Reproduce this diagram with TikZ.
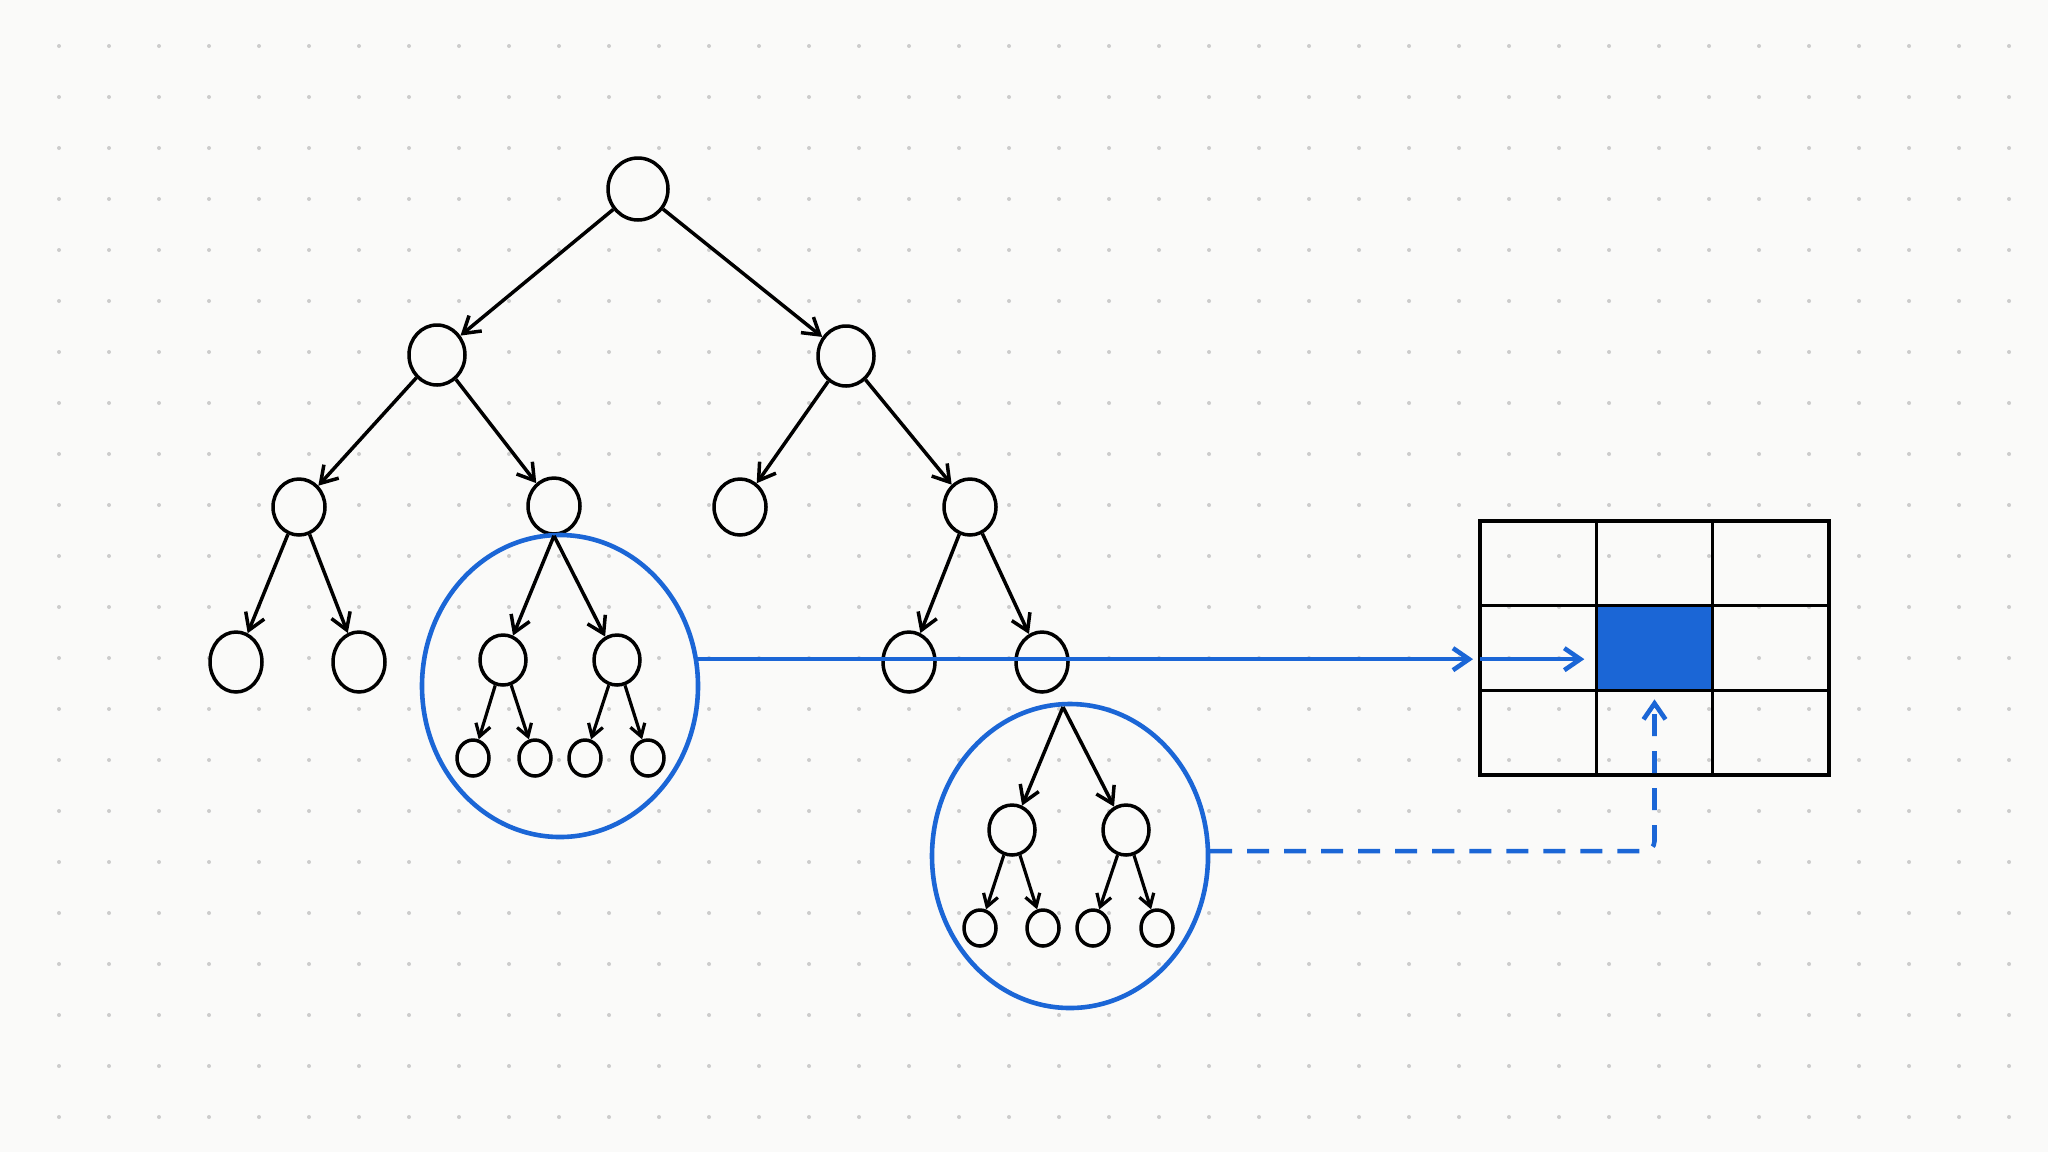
\documentclass[tikz,border=0pt]{standalone}
\usetikzlibrary{arrows.meta,shapes.geometric}
\definecolor{bgc}{RGB}{250,250,249}
\definecolor{dotc}{RGB}{204,204,204}
\definecolor{bluec}{RGB}{27,102,214}
\begin{document}
\begin{tikzpicture}[x=0.5pt,y=-0.5pt,
  tn/.style={ellipse,draw=black,fill=bgc,line width=1.75pt,inner sep=0pt},
  nroot/.style={tn,minimum width=30pt,minimum height=31pt},
  nlone/.style={tn,minimum width=28pt,minimum height=30pt},
  nltwo/.style={tn,minimum width=26pt,minimum height=28pt},
  nlthree/.style={tn,minimum width=26pt,minimum height=30pt},
  nsub/.style={tn,minimum width=23pt,minimum height=25pt},
  nleaf/.style={tn,minimum width=16pt,minimum height=18pt},
  ring/.style={ellipse,draw=bluec,line width=2.3pt,inner sep=0pt,minimum width=138pt,minimum height=151pt},
  cell/.style={rectangle,draw=black,line width=1.7pt,inner sep=0pt,outer sep=0pt,minimum width=58.17pt,minimum height=42.33pt},
  edge/.style={line width=1.75pt,-{Straight Barb[length=8pt,width=10pt]}},
  sedge/.style={line width=1.6pt,-{Straight Barb[length=6pt,width=7.5pt]}},
  bline/.style={draw=bluec,line width=2.3pt},
  btip/.style={-{Straight Barb[length=8pt,width=11pt]}}
]
\fill[bgc] (0,0) rectangle (2048,1152);
\useasboundingbox (0,0) rectangle (2048,1152);
\foreach \i in {0,...,39}{
  \foreach \j in {0,...,21}{
    \fill[dotc] ({59+50*\i},{46+51*\j}) circle (1pt);
  }
}
% main tree
\node[nroot] (r) at (638,189) {};
\node[nlone] (a) at (437,355) {};
\node[nlone] (b) at (846,356) {};
\node[nltwo] (c) at (299,507) {};
\node[nltwo] (d) at (554,506) {};
\node[nltwo] (e) at (740,507) {};
\node[nltwo] (f) at (970,507) {};
\node[nlthree] (g) at (236,662) {};
\node[nlthree] (h) at (359,662) {};
\node[nlthree] (i) at (909,662) {};
\node[nlthree] (j) at (1042,662) {};
\draw[edge] (r) -- (a);
\draw[edge] (r) -- (b);
\draw[edge] (a) -- (c);
\draw[edge] (a) -- (d);
\draw[edge] (b) -- (e);
\draw[edge] (b) -- (f);
\draw[edge] (c) -- (g);
\draw[edge] (c) -- (h);
\draw[edge] (f) -- (i);
\draw[edge] (f) -- (j);
% subtree 1
\node[ring] (c1) at (560,686) {};
\node[nsub] (d1) at (503,660) {};
\node[nsub] (d2) at (617,660) {};
\node[nleaf] (d11) at (473,758) {};
\node[nleaf] (d12) at (535,758) {};
\node[nleaf] (d21) at (585,758) {};
\node[nleaf] (d22) at (648,758) {};
\draw[edge] (d.south) -- (d1);
\draw[edge] (d.south) -- (d2);
\draw[sedge] (d1) -- (d11);
\draw[sedge] (d1) -- (d12);
\draw[sedge] (d2) -- (d21);
\draw[sedge] (d2) -- (d22);
% subtree 2
\node[ring,minimum height=152pt] (c2) at (1070,856) {};
\coordinate (j0) at (1063,707);
\node[nsub] (j1) at (1012,830) {};
\node[nsub] (j2) at (1126,830) {};
\node[nleaf] (j11) at (980,928) {};
\node[nleaf] (j12) at (1043,928) {};
\node[nleaf] (j21) at (1093,928) {};
\node[nleaf] (j22) at (1157,928) {};
\draw[edge] (j0) -- (j1);
\draw[edge] (j0) -- (j2);
\draw[sedge] (j1) -- (j11);
\draw[sedge] (j1) -- (j12);
\draw[sedge] (j2) -- (j21);
\draw[sedge] (j2) -- (j22);
% grid
\node[cell] (m11) at (1538.2,563.3) {};
\node[cell] (m12) at (1654.5,563.3) {};
\node[cell] (m13) at (1770.8,563.3) {};
\node[cell] (m21) at (1538.2,648) {};
\node[cell,fill=bluec] (m22) at (1654.5,648) {};
\node[cell] (m23) at (1770.8,648) {};
\node[cell] (m31) at (1538.2,732.7) {};
\node[cell] (m32) at (1654.5,732.7) {};
\node[cell] (m33) at (1770.8,732.7) {};
% blue connectors
\draw[bline,btip,shorten >=3.5pt] (c1.11) -- (c1.11 -| m21.west);
\draw[bline,btip,shorten >=6pt] (c1.11 -| m21.west) -- (c1.11 -| m22.west);
\draw[bline,btip,dash pattern=on 11pt off 7.5pt,rounded corners=5pt,shorten >=4.5pt] (c2.2) -| (m22.south);
\end{tikzpicture}
\end{document}
